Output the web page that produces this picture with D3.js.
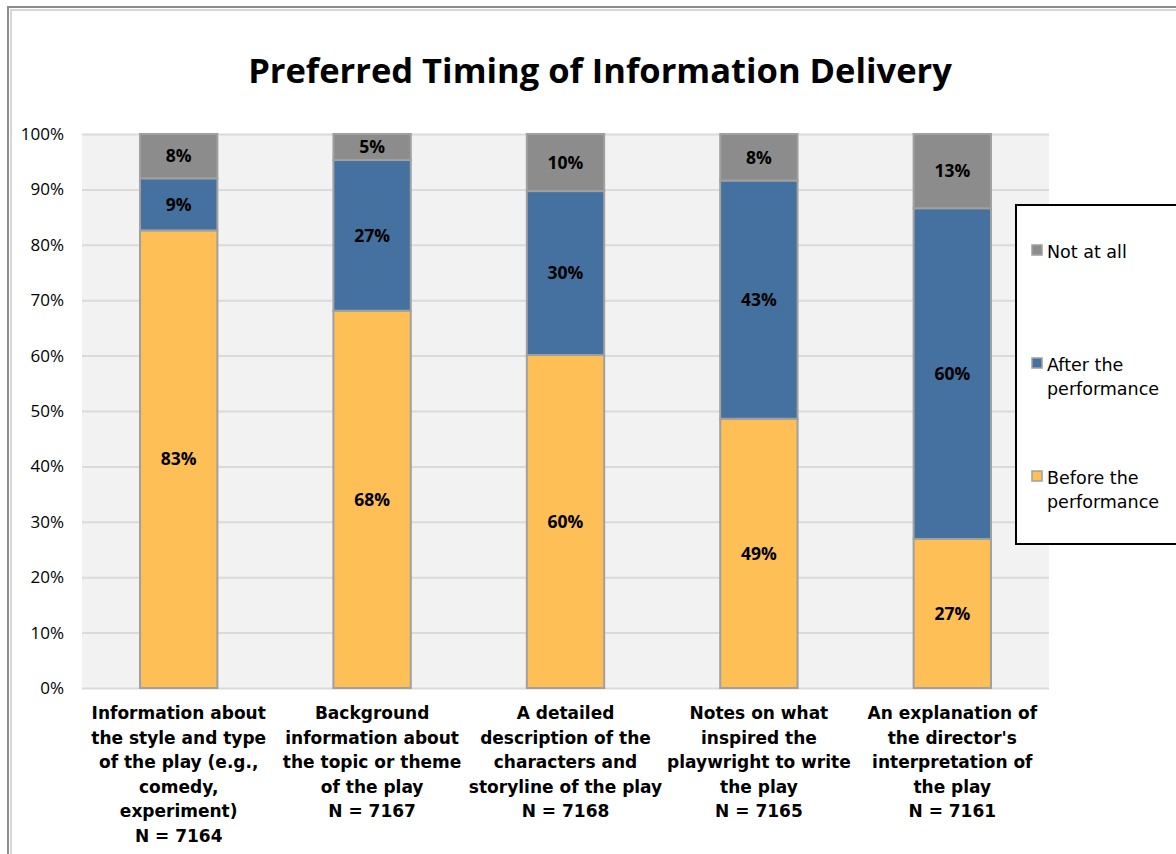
<!DOCTYPE html>
<html>
<head>
<meta charset="utf-8">
<script src="https://cdn.jsdelivr.net/npm/d3@7"></script>
<style>
  body { margin: 0; background: #fff; }
  svg { display: block; }
</style>
</head>
<body>
<div id="chart"></div>
<script>
// categories, one array of text lines per bar
var categoryLines = [
  ["Information about", "the style and type", "of the play (e.g.,", "comedy,", "experiment)"],
  ["Background", "information about", "the topic or theme", "of the play"],
  ["A detailed", "description of the", "characters and", "storyline of the play"],
  ["Notes on what", "inspired the", "playwright to write", "the play"],
  ["An explanation of", "the director's", "interpretation of", "the play"]
];
var sampleSizes = [7164, 7167, 7168, 7165, 7161];

// series values (percent)
var beforeValues = [82.6, 68.1, 60.1, 48.6, 26.9];
var afterValues  = [9.4, 27.2, 29.6, 43.0, 59.7];
var notAtAll     = [8.0, 4.7, 10.3, 8.4, 13.4];

var seriesNames = ["Before the performance", "After the performance", "Not at all"];
var legendLines = [["Not at all"], ["After the", "performance"], ["Before the", "performance"]];
var yTicks = [0, 10, 20, 30, 40, 50, 60, 70, 80, 90, 100];

var width = 1176, height = 854;
var margin = { top: 134, left: 82, right: 1176 - 1049, bottom: 854 - 688 };
var plotW = width - margin.left - margin.right;
var plotH = height - margin.top - margin.bottom;

var colors = { before: "#fdbf56", after: "#44719f", not: "#8c8c8c" };

var rows = categoryLines.map(function (c, i) {
  return { idx: i, before: beforeValues[i], after: afterValues[i], not: notAtAll[i] };
});

var svg = d3.select("#chart").append("svg")
  .attr("width", width)
  .attr("height", height);

// outer frame
svg.append("rect")
  .attr("x", 8).attr("y", 7).attr("width", 1200).attr("height", 900)
  .style("fill", "none").style("stroke", "#8c8c8c").style("stroke-width", 2);
svg.append("rect")
  .attr("x", 11).attr("y", 10).attr("width", 1200).attr("height", 900)
  .style("fill", "none").style("stroke", "#d6d6d6").style("stroke-width", 2);

// title
svg.append("text")
  .attr("x", 600).attr("y", 83)
  .attr("text-anchor", "middle")
  .style("font-family", "'Open Sans'")
  .style("font-weight", "bold")
  .style("font-size", "34.5px")
  .text("Preferred Timing of Information Delivery");

var g = svg.append("g").attr("transform", "translate(" + margin.left + "," + margin.top + ")");

var x = d3.scaleBand()
  .domain(rows.map(function (d) { return d.idx; }))
  .range([0, plotW])
  .paddingInner(0.6)
  .paddingOuter(0.3);

var y = d3.scaleLinear().domain([0, 100]).range([plotH, 0]);

// plot background
g.append("rect")
  .attr("width", plotW).attr("height", plotH)
  .style("fill", "#f2f2f2");

// gridlines
var grid = g.append("g")
  .call(d3.axisLeft(y).tickValues(yTicks).tickSize(-plotW).tickFormat(""));
grid.select(".domain").remove();
grid.selectAll("line").style("stroke", "#dadada").style("stroke-width", 2);

// y axis labels
var yAxis = g.append("g")
  .call(d3.axisLeft(y).tickValues(yTicks).tickSize(0).tickPadding(18)
    .tickFormat(function (d) { return d + "%"; }));
yAxis.select(".domain").remove();
yAxis.selectAll("text")
  .style("font-family", "'Open Sans'")
  .style("font-size", "17px")
  .style("fill", "#000");

// stacked bars
var keys = ["before", "after", "not"];
var stacked = d3.stack().keys(keys)(rows);

var layers = g.selectAll(".layer")
  .data(stacked).enter()
  .append("g")
  .attr("class", "layer")
  .style("fill", function (d) { return colors[d.key]; });

layers.selectAll("rect")
  .data(function (d) { return d; }).enter()
  .append("rect")
  .attr("x", function (d) { return x(d.data.idx); })
  .attr("y", function (d) { return y(d[1]); })
  .attr("width", x.bandwidth())
  .attr("height", function (d) { return y(d[0]) - y(d[1]); })
  .style("stroke", "#a0a0a0")
  .style("stroke-width", 2);

// value labels
layers.selectAll("text")
  .data(function (d) { return d; }).enter()
  .append("text")
  .attr("x", function (d) { return x(d.data.idx) + x.bandwidth() / 2; })
  .attr("y", function (d) { return (y(d[0]) + y(d[1])) / 2; })
  .attr("dy", "0.36em")
  .attr("text-anchor", "middle")
  .style("font-family", "'Open Sans'")
  .style("font-weight", "bold")
  .style("font-size", "17.5px")
  .style("fill", "#000")
  .text(function (d) { return Math.round(d.data[this.parentNode.__data__.key]) + "%"; });

// category labels
var catLabels = g.selectAll(".cat")
  .data(rows).enter()
  .append("text")
  .attr("class", "cat")
  .attr("text-anchor", "middle")
  .attr("transform", function (d) {
    return "translate(" + (x(d.idx) + x.bandwidth() / 2) + "," + (plotH + 31) + ")";
  })
  .style("font-family", "'DejaVu Sans'")
  .style("font-weight", "bold")
  .style("font-size", "17px")
  .style("fill", "#000");

catLabels.each(function (d) {
  var lines = categoryLines[d.idx].concat(["N = " + sampleSizes[d.idx]]);
  d3.select(this).selectAll("tspan")
    .data(lines).enter()
    .append("tspan")
    .attr("x", 0)
    .attr("y", function (l, i) { return i * 24.6; })
    .text(function (l) { return l; });
});

// legend
var legend = svg.append("g");
legend.append("rect")
  .attr("x", 1016).attr("y", 205).attr("width", 200).attr("height", 339)
  .style("fill", "#fff").style("stroke", "#000").style("stroke-width", 2);

var legendKeys = ["not", "after", "before"];
var legendItems = legend.selectAll(".item")
  .data(legendKeys).enter()
  .append("g")
  .attr("class", "item")
  .attr("transform", function (d, i) { return "translate(1032," + (258 + i * 113) + ")"; });

legendItems.append("rect")
  .attr("x", 0).attr("y", -13).attr("width", 10).attr("height", 10)
  .style("fill", function (d) { return colors[d]; })
  .style("stroke", "#a0a0a0")
  .style("stroke-width", 1.5);

legendItems.append("text")
  .style("font-family", "'DejaVu Sans'")
  .style("font-size", "17.5px")
  .style("fill", "#000")
  .each(function (d, i) {
    d3.select(this).selectAll("tspan")
      .data(legendLines[i]).enter()
      .append("tspan")
      .attr("x", 15)
      .attr("y", function (l, j) { return j * 24; })
      .text(function (l) { return l; });
  });
</script>
</body>
</html>
